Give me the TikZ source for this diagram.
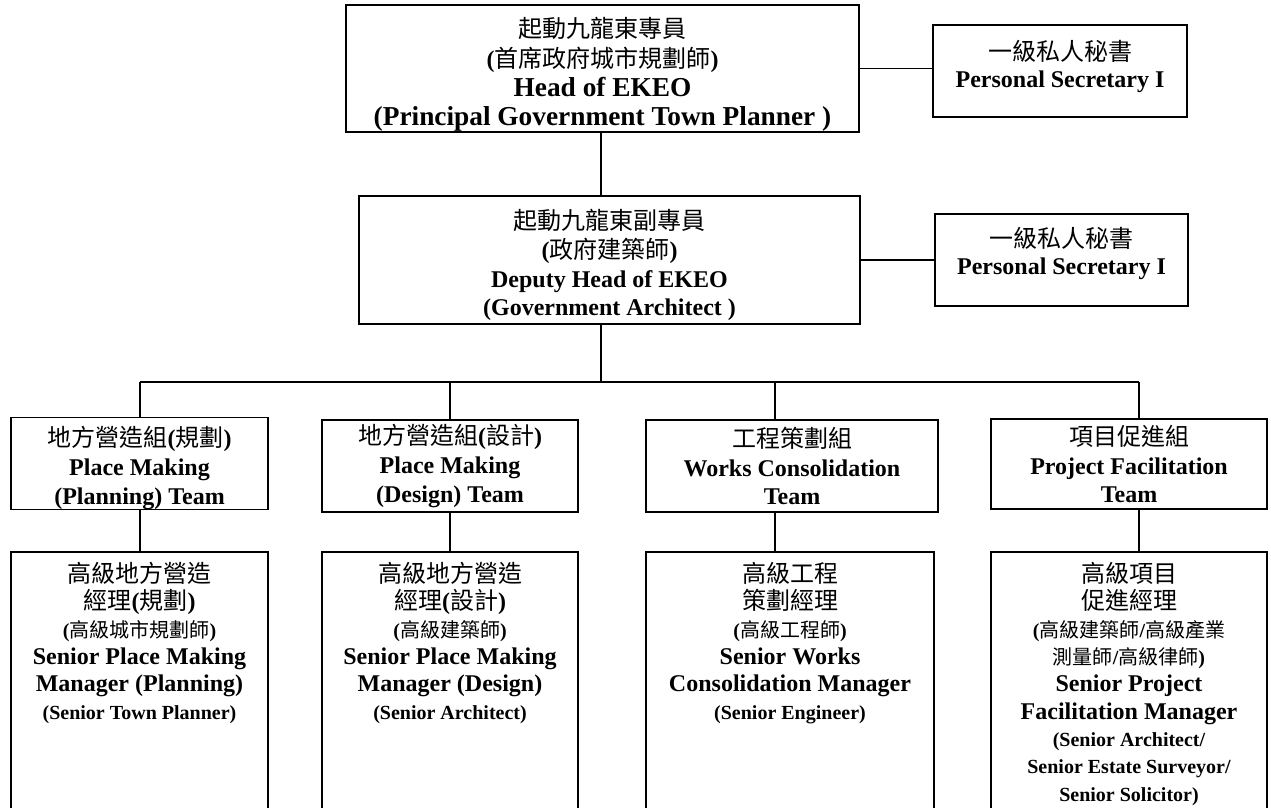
\documentclass[tikz,border=0pt]{standalone}
\usepackage{fontspec}
\setmainfont{Liberation Serif}
\newfontfamily\zhfont{Noto Sans CJK TC}
\newcommand{\zh}[1]{{\zhfont\mdseries #1}}
\newcommand{\sm}{\fontsize{15}{19}\selectfont}
\newcommand{\lift}[1]{\rule{0pt}{#1}}
\newcommand{\sink}[1]{\rule[-#1]{0pt}{#1}}
\usetikzlibrary{positioning}

\begin{document}
\begin{tikzpicture}[x=0.75pt,y=-0.75pt,
    box/.style={draw, line width=1.1pt, align=center, inner sep=0pt,
      font=\bfseries\fontsize{18}{21.5}\selectfont},
    txt/.style={align=center, inner sep=0pt,
      font=\bfseries\fontsize{18}{20.5}\selectfont},
    wire/.style={line width=1.1pt}]
    \clip (0,0) rectangle (1271,807);
    \node[box, minimum width=384.75pt, minimum height=95.25pt,
      font=\bfseries\fontsize{20.5}{22}\selectfont] (Head) at (602.5,68.5)
      {\lift{24.5pt}{\fontsize{18}{22}\selectfont\zh{起動九龍東專員}}\\{\fontsize{18}{22}\selectfont(\zh{首席政府城市規劃師})}\\Head of EKEO\\(Principal Government Town Planner )};
    \node[box, minimum width=190.5pt, minimum height=69pt,
      font=\bfseries\fontsize{18}{20}\selectfont] (SecA) at (1060,71)
      {\zh{一級私人秘書}\\Personal Secretary I\sink{11pt}};
    \node[box, minimum width=375.75pt, minimum height=96pt] (Deputy) at (609.5,260)
      {\lift{23pt}\zh{起動九龍東副專員}\\(\zh{政府建築師})\\Deputy Head of EKEO\\(Government Architect )};
    \node[box, minimum width=189.75pt, minimum height=69pt,
      font=\bfseries\fontsize{18}{20}\selectfont] (SecB) at (1061.5,260)
      {\zh{一級私人秘書}\\Personal Secretary I\sink{14pt}};
    \node[box, minimum width=192.75pt, minimum height=68.25pt] (TeamPlan) at (139.5,463.5)
      {\lift{22pt}\zh{地方營造組}(\zh{規劃})\\Place Making\\(Planning) Team};
    \node[box, minimum width=192pt, minimum height=69pt] (TeamDes) at (450,466)
      {\zh{地方營造組}(\zh{設計})\\Place Making\\(Design) Team};
    \node[box, minimum width=219pt, minimum height=69pt] (TeamWorks) at (792,466)
      {\zh{工程策劃組}\\Works Consolidation\\Team};
    \node[box, minimum width=207pt, minimum height=67.5pt] (TeamProj) at (1129,464)
      {\zh{項目促進組}\\Project Facilitation\\Team};
    \node[box, minimum width=192.75pt, minimum height=225pt] (MgrPlan) at (139.5,702) {};
    \node[box, minimum width=192pt, minimum height=225pt] (MgrDes) at (450,702) {};
    \node[box, minimum width=216pt, minimum height=225pt] (MgrWorks) at (790,702) {};
    \node[box, minimum width=207pt, minimum height=225pt] (MgrProj) at (1129,702) {};
    \node[txt, below=8pt of MgrPlan.north] (MgrPlanText)
      {\zh{高級地方營造}\\\zh{經理}(\zh{規劃})\\{\sm(\zh{高級城市規劃師})}\\Senior Place Making\\Manager (Planning)\\{\sm(Senior Town Planner)}};
    \node[txt, below=8pt of MgrDes.north] (MgrDesText)
      {\zh{高級地方營造}\\\zh{經理}(\zh{設計})\\{\sm(\zh{高級建築師})}\\Senior Place Making\\Manager (Design)\\{\sm(Senior Architect)}};
    \node[txt, below=8pt of MgrWorks.north] (MgrWorksText)
      {\zh{高級工程}\\\zh{策劃經理}\\{\sm(\zh{高級工程師})}\\Senior Works\\Consolidation Manager\\{\sm(Senior Engineer)}};
    \node[txt, below=8pt of MgrProj.north] (MgrProjText)
      {\zh{高級項目}\\\zh{促進經理}\\{\sm(\zh{高級建築師}/\zh{高級產業}}\\{\sm\zh{測量師}/\zh{高級律師})}\\Senior Project\\Facilitation Manager\\{\sm(Senior Architect/}\\{\sm Senior Estate Surveyor/}\\{\sm Senior Solicitor)}};
    \coordinate (Spine) at (601,382);
    \coordinate (BusPlan) at (140,382);
    \coordinate (BusDes) at (450,382);
    \coordinate (BusWorks) at (775,382);
    \coordinate (BusProj) at (1139,382);
    \draw[wire] (Spine |- Head.south) -- (Spine |- Deputy.north);
    \draw[wire] (Spine |- Deputy.south) -- (Spine);
    \draw[wire] (Head.east) -- (Head.east -| SecA.west);
    \draw[wire] (Deputy.east) -- (Deputy.east -| SecB.west);
    \draw[wire] (BusPlan) -- (BusProj);
    \draw[wire] (BusPlan) -- (BusPlan |- TeamPlan.north);
    \draw[wire] (BusDes) -- (BusDes |- TeamDes.north);
    \draw[wire] (BusWorks) -- (BusWorks |- TeamWorks.north);
    \draw[wire] (BusProj) -- (BusProj |- TeamProj.north);
    \draw[wire] (BusPlan |- TeamPlan.south) -- (BusPlan |- MgrPlan.north);
    \draw[wire] (BusDes |- TeamDes.south) -- (BusDes |- MgrDes.north);
    \draw[wire] (BusWorks |- TeamWorks.south) -- (BusWorks |- MgrWorks.north);
    \draw[wire] (BusProj |- TeamProj.south) -- (BusProj |- MgrProj.north);
\end{tikzpicture}
\end{document}
